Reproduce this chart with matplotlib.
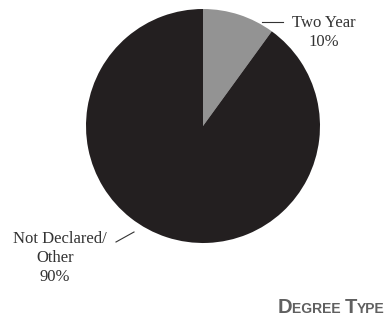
import matplotlib
matplotlib.use('Agg')
import matplotlib.pyplot as plt

# Datos del gráfico
etiquetas = ['Two Year', 'Not Declared/\nOther']
valores = [10, 90]
colores = ['#939393', '#231f20']

W, H = 386, 318
fig = plt.figure(figsize=(W / 100, H / 100), dpi=100)
ax = fig.add_axes([0, 0, 1, 1])

cx, cy, r = 203, H - 126, 117
ax.pie(valores, colors=colores, startangle=90, counterclock=False,
       center=(cx, cy), radius=r, wedgeprops=dict(linewidth=0))
ax.set_xlim(0, W)
ax.set_ylim(0, H)
ax.set_aspect('equal')
ax.axis('off')

serif = 'Liberation Serif'
txt = '#333333'
fs = 12

# Etiqueta "Two Year"
ax.plot([262, 283], [H - 22, H - 22], color=txt, lw=0.8)
ax.text(324, H - 23, etiquetas[0], ha='center', va='center', family=serif, fontsize=fs, color=txt)
ax.text(324, H - 42, f'{valores[0]}%', ha='center', va='center', family=serif, fontsize=fs, color=txt)

# Etiqueta "Not Declared/ Other"
ax.plot([116, 134], [H - 242, H - 232], color=txt, lw=0.8)
ax.text(60, H - 239, 'Not Declared/', ha='center', va='center', family=serif, fontsize=fs, color=txt)
ax.text(55, H - 258, 'Other', ha='center', va='center', family=serif, fontsize=fs, color=txt)
ax.text(55, H - 277, f'{valores[1]}%', ha='center', va='center', family=serif, fontsize=fs, color=txt)

# Título en versalitas, pegado al borde derecho
fig.canvas.draw()
rend = fig.canvas.get_renderer()
estilo = dict(fontweight='bold', family='Liberation Sans', color='#606060',
              ha='left', va='baseline')
base = (H - 313) / H

def ancho(s, sz):
    t = fig.text(0, 0, s, fontsize=sz, **estilo)
    w = t.get_window_extent(renderer=rend).width
    t.remove()
    return w

grande, chica = 14.5, 10
piezas = [('D', grande), ('EGREE ', chica), ('T', grande), ('YPE', chica)]
x = 385 - sum(ancho(s, sz) for s, sz in piezas)
for s, sz in piezas:
    fig.text(x / W, base, s, fontsize=sz, **estilo)
    x += ancho(s, sz)

fig.savefig('out.png', dpi=100)
